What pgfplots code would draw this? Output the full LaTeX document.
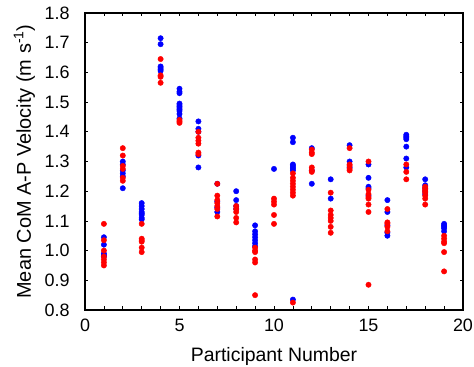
\documentclass[border=0pt]{standalone}
\usepackage{fontspec}
\setmainfont{Liberation Sans}
\usepackage{pgfplots}
\pgfplotsset{compat=1.18}
\definecolor{mblue}{RGB}{0,0,255}
\definecolor{mred}{RGB}{255,0,0}
\begin{document}
\begin{tikzpicture}
\useasboundingbox (-85bp,-57bp) rectangle (389bp,310bp);
\begin{axis}[
  at={(0,0)}, anchor=south west,
  scale only axis,
  width=378bp, height=297bp,
  xmin=0, xmax=20, ymin=0.8, ymax=1.8,
  xtick={0,5,10,15,20},
  minor x tick num=4,
  ytick={0.8,0.9,...,1.81},
  yticklabel style={xshift=-12bp,/pgf/number format/.cd,fixed,fixed zerofill,precision=1},
  /pgf/number format/assume math mode=true,
  tick align=inside,
  tick pos=both,
  major tick length=3.5bp,
  minor tick length=3.5bp,
  axis line style={line width=1.1bp},
  every tick/.style={black,line width=0.7bp},
  ticklabel style={font=\fontsize{18}{21}\selectfont},
  xticklabel style={yshift=-5.5bp},
  every axis x label/.style={at={(axis description cs:0.5,-0.174)}, anchor=base, font=\fontsize{19.5}{23}\selectfont},
  every axis y label/.style={at={(axis description cs:-0.143,0.5)}, rotate=90, anchor=base, font=\fontsize{20}{23}\selectfont},
  xlabel={Participant Number},
  ylabel={Mean CoM A-P Velocity (m s\textsuperscript{-1})},
  clip=false,
]
\addplot[only marks, mark=*, mark size=2.7bp, color=mblue, mark options={fill=mblue, draw=mblue}] coordinates {
(1,1.045)(1,1.02)(1,0.99)(1,0.985)(1,0.98)
(2,1.30)(2,1.29)(2,1.27)(2,1.26)(2,1.25)(2,1.21)
(3,1.16)(3,1.15)(3,1.14)(3,1.13)(3,1.125)(3,1.12)(3,1.11)(3,1.105)
(4,1.715)(4,1.695)(4,1.62)(4,1.615)(4,1.61)(4,1.605)
(5,1.545)(5,1.535)(5,1.53)(5,1.495)(5,1.49)(5,1.485)(5,1.48)(5,1.475)(5,1.47)(5,1.46)(5,1.445)
(6,1.435)(6,1.41)(6,1.40)(6,1.32)(6,1.28)
(7,1.225)(7,1.165)(7,1.145)(7,1.13)
(8,1.20)(8,1.17)(8,1.15)(8,1.14)
(9,1.085)(9,1.065)(9,1.055)(9,1.045)(9,1.035)(9,1.025)(9,1.015)
(10,1.275)
(11,1.38)(11,1.365)(11,1.29)(11,1.285)(11,1.28)(11,1.275)(11,1.27)(11,0.835)
(12,1.345)(12,1.27)(12,1.225)
(13,1.24)(13,1.175)
(14,1.355)(14,1.30)(14,1.28)
(15,1.29)(15,1.245)(15,1.215)(15,1.21)(15,1.185)
(16,1.17)(16,1.13)(16,1.085)(16,1.06)(16,1.05)
(17,1.39)(17,1.385)(17,1.38)(17,1.375)(17,1.35)(17,1.31)(17,1.28)
(18,1.24)(18,1.22)(18,1.21)(18,1.20)(18,1.19)
(19,1.09)(19,1.085)(19,1.08)(19,1.075)(19,1.065)
};
\addplot[only marks, mark=*, mark size=2.7bp, color=mred, mark options={fill=mred, draw=mred}] coordinates {
(1,1.09)(1,1.035)(1,1.00)(1,0.98)(1,0.97)(1,0.96)(1,0.95)
(2,1.345)(2,1.32)(2,1.285)(2,1.275)(2,1.245)(2,1.235)
(3,1.09)(3,1.04)(3,1.035)(3,1.03)(3,1.01)(3,0.995)
(4,1.645)(4,1.59)(4,1.585)(4,1.565)
(5,1.44)(5,1.435)(5,1.43)
(6,1.40)(6,1.38)(6,1.37)(6,1.36)(6,1.33)(6,1.325)
(7,1.225)(7,1.185)(7,1.17)(7,1.16)(7,1.15)(7,1.14)(7,1.115)
(8,1.15)(8,1.14)(8,1.13)(8,1.11)(8,1.095)
(9,1.01)(9,1.00)(9,0.995)(9,0.97)(9,0.96)(9,0.85)
(10,1.175)(10,1.165)(10,1.155)(10,1.12)(10,1.09)
(11,1.26)(11,1.245)(11,1.235)(11,1.225)(11,1.215)(11,1.205)(11,1.195)(11,1.185)(11,0.825)
(12,1.34)(12,1.33)(12,1.325)(12,1.28)(12,1.27)(12,1.265)
(13,1.195)(13,1.135)(13,1.12)(13,1.11)(13,1.10)(13,1.08)(13,1.06)
(14,1.345)(14,1.29)(14,1.285)(14,1.275)(14,1.27)
(15,1.30)(15,1.205)(15,1.19)(15,1.18)(15,1.175)(15,1.155)(15,1.13)(15,0.885)
(16,1.14)(16,1.095)(16,1.09)(16,1.08)(16,1.065)
(17,1.29)(17,1.265)(17,1.24)
(18,1.215)(18,1.21)(18,1.205)(18,1.20)(18,1.195)(18,1.185)(18,1.175)(18,1.155)
(19,1.05)(19,1.04)(19,1.03)(19,1.025)(19,0.995)(19,0.93)
};
\end{axis}
\end{tikzpicture}
\end{document}
